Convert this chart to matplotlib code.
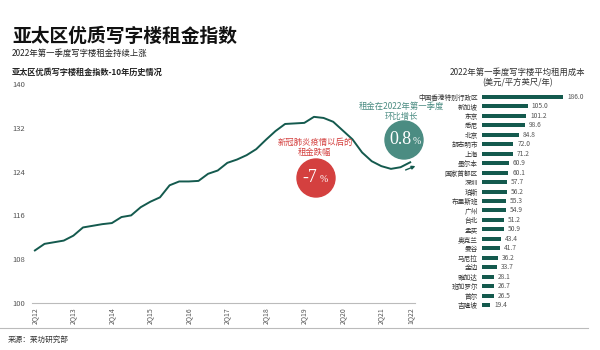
import matplotlib
matplotlib.use("Agg")
import matplotlib.pyplot as plt
from matplotlib.patches import Ellipse, FancyArrowPatch
from matplotlib.lines import Line2D

plt.rcParams['font.family'] = ['Noto Sans CJK SC', 'DejaVu Sans']

# 亚太区优质写字楼租金指数, 2Q12 - 1Q22 (quarterly)
quarters = ["2Q12", "3Q12", "4Q12", "1Q13", "2Q13", "3Q13", "4Q13", "1Q14",
            "2Q14", "3Q14", "4Q14", "1Q15", "2Q15", "3Q15", "4Q15", "1Q16",
            "2Q16", "3Q16", "4Q16", "1Q17", "2Q17", "3Q17", "4Q17", "1Q18",
            "2Q18", "3Q18", "4Q18", "1Q19", "2Q19", "3Q19", "4Q19", "1Q20",
            "2Q20", "3Q20", "4Q20", "1Q21", "2Q21", "3Q21", "4Q21", "1Q22"]
index_values = [109.6, 110.8, 111.1, 111.4, 112.3, 113.8, 114.1, 114.4,
                114.6, 115.7, 116.0, 117.5, 118.5, 119.3, 121.5, 122.2,
                122.2, 122.3, 123.6, 124.2, 125.6, 126.2, 127.0, 128.1,
                129.8, 131.4, 132.7, 132.8, 132.9, 134.0, 133.8, 133.1,
                131.5, 129.9, 127.5, 125.9, 125.0, 124.5, 124.8, 125.7]
tick_labels = ["2Q12", "2Q13", "2Q14", "2Q15", "2Q16", "2Q17", "2Q18",
               "2Q19", "2Q20", "2Q21", "1Q22"]
y_ticks = [100, 108, 116, 124, 132, 140]

# 2022年第一季度写字楼平均租用成本
cities = ["中国香港特别行政区", "新加坡", "东京", "悉尼", "北京", "胡志明市", "上海",
          "墨尔本", "国家首都区", "深圳", "珀斯", "布里斯班", "广州", "台北", "孟买",
          "奥克兰", "曼谷", "马尼拉", "金边", "雅加达", "班加罗尔", "首尔", "吉隆坡"]
costs = [186.0, 105.0, 101.2, 98.6, 84.8, 72.0, 71.2, 60.9, 60.1, 57.7, 56.2,
         55.3, 54.9, 51.2, 50.9, 43.4, 41.7, 36.2, 33.7, 28.1, 26.7, 26.5, 19.4]

teal = "#145a4e"
red = "#d4403f"
soft_teal = "#4b8c82"
grey = "#555555"

W, H = 600, 350
fig = plt.figure(figsize=(6, 3.5), dpi=100)


def px(xp, yp):
    # pixel position (from top-left) -> figure fraction
    return xp / W, 1 - yp / H


fig.text(*px(12, 36), "亚太区优质写字楼租金指数", fontsize=13.5, fontweight="bold",
         color="#111111", va="center")
fig.text(*px(12, 53), "2022年第一季度写字楼租金持续上涨", fontsize=6, color="#222222",
         va="center")
fig.text(*px(12, 72), "亚太区优质写字楼租金指数-10年历史情况", fontsize=5.9,
         fontweight="bold", color="#222222", va="center")

# line chart
ax = fig.add_axes([32 / W, 1 - 303 / H, (415 - 32) / W, (303 - 84) / H])
x = list(range(len(quarters)))
ax.plot(x, index_values, color=teal, lw=1.4)
ax.set_ylim(100, 140)
ax.set_xlim(-0.3, 39.5)
ax.set_yticks(y_ticks)
ax.set_yticklabels([str(v) for v in y_ticks], fontsize=5.5, color=grey)
ax.set_xticks([quarters.index(t) for t in tick_labels])
ax.set_xticklabels(tick_labels, rotation=90, fontsize=5, color=grey)
ax.tick_params(length=0, pad=3)
for lbl in ax.get_yticklabels():
    lbl.set_horizontalalignment("left")
ax.tick_params(axis="y", pad=14)
for side in ["top", "right", "left"]:
    ax.spines[side].set_visible(False)
ax.spines["bottom"].set_color("#bbbbbb")
ax.spines["bottom"].set_linewidth(0.8)

# annotation circles
for (cx, cy), col in [((316, 178), red), ((404, 140), soft_teal)]:
    fig.patches.append(Ellipse(px(cx, cy), 38 / W, 38 / H, transform=fig.transFigure,
                               color=col, zorder=5))
serif = "Liberation Serif"
fig.text(*px(302, 178), "-7", fontsize=13, color="white", ha="left", va="center",
         family=serif, zorder=6)
fig.text(*px(320, 180), "%", fontsize=7, color="white", ha="left", va="center",
         family=serif, zorder=6)
fig.text(*px(389, 140), "0.8", fontsize=13, color="white", ha="left", va="center",
         family=serif, zorder=6)
fig.text(*px(413, 142), "%", fontsize=7, color="white", ha="left", va="center",
         family=serif, zorder=6)
fig.text(*px(315, 142), "新冠肺炎疫情以后的", fontsize=6, color=red, ha="center",
         va="center")
fig.text(*px(315, 152), "租金跌幅", fontsize=6, color=red, ha="center", va="center")
fig.text(*px(401, 106), "租金在2022年第一季度", fontsize=6, color=soft_teal,
         ha="center", va="center")
fig.text(*px(401, 116), "环比增长", fontsize=6, color=soft_teal, ha="center",
         va="center")
fig.add_artist(FancyArrowPatch(px(403, 171), px(418, 165), transform=fig.transFigure,
                               arrowstyle="-|>", mutation_scale=5, color=teal, lw=1.0))

# bar chart
bx = fig.add_axes([482 / W, 1 - 310 / H, 116 / W, 218 / H])
rows = list(range(len(cities)))
bx.barh(rows, costs, height=0.42, color=teal)
bx.set_xlim(0, 266)
bx.set_ylim(len(cities) - 0.5, -0.5)
bx.set_yticks(rows)
bx.set_yticklabels(cities, fontsize=4.8, color="#333333")
bx.set_xticks([])
bx.tick_params(length=0, pad=3)
for s in bx.spines.values():
    s.set_visible(False)
for r, v in zip(rows, costs):
    bx.text(v + 9, r, f"{v:.1f}", fontsize=4.8, color=grey, va="center")
fig.text(*px(518, 72), "2022年第一季度写字楼平均租用成本", fontsize=6, color="#333333",
         ha="center", va="center")
fig.text(*px(518, 83), "(美元/平方英尺/年)", fontsize=6, color="#333333",
         ha="center", va="center")

# footer
fig.add_artist(Line2D([0, 0.98], [1 - 328 / H] * 2, transform=fig.transFigure,
                      color="#bbbbbb", lw=0.8))
fig.text(*px(8, 340), "来源：莱坊研究部", fontsize=5.5, color="#333333", va="center")

fig.savefig("out.png", dpi=100)
